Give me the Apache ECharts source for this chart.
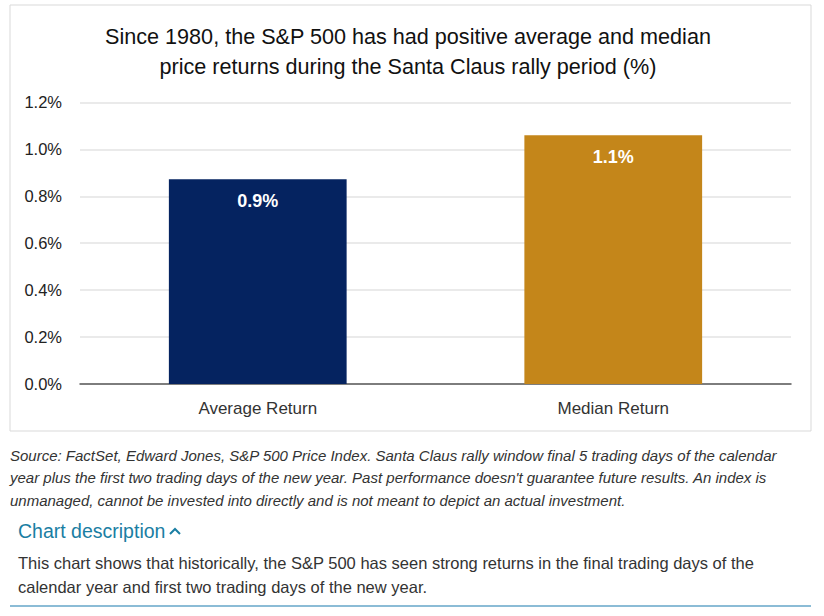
<!DOCTYPE html>
<html>
<head>
<meta charset="utf-8">
<script src="https://cdn.jsdelivr.net/npm/echarts@6/dist/echarts.min.js"></script>
<style>
html,body{margin:0;padding:0;background:#fff;}
#chart{width:824px;height:616px;}
</style>
</head>
<body>
<div id="chart"></div>
<script>
const categories = ['Average Return', 'Median Return'];
const values = [0.873, 1.06];
const barColors = ['#052360', '#c4861a'];
const yTicks = [0, 0.2, 0.4, 0.6, 0.8, 1.0, 1.2];
const titleLines = ['Since 1980, the S&P 500 has had positive average and median', 'price returns during the Santa Claus rally period (%)'];
const sourceLines = [
  "Source: FactSet, Edward Jones, S&P 500 Price Index. Santa Claus rally window final 5 trading days of the calendar",
  "year plus the first two trading days of the new year. Past performance doesn't guarantee future results. An index is",
  "unmanaged, cannot be invested into directly and is not meant to depict an actual investment."
];
const descTitle = 'Chart description';
const descLines = [
  'This chart shows that historically, the S&P 500 has seen strong returns in the final trading days of the',
  'calendar year and first two trading days of the new year.'
];

const FONT = '"Liberation Sans", Arial, sans-serif';
const chart = echarts.init(document.getElementById('chart'), null, {renderer: 'svg'});

const graphics = [
  {type: 'rect', shape: {x: 10, y: 5, width: 801, height: 426}, style: {fill: 'none', stroke: '#d9d9d9', lineWidth: 1}, z: -1},
  {type: 'line', shape: {x1: 10, y1: 606, x2: 811, y2: 606}, style: {stroke: '#8bbcd6', lineWidth: 2}}
];
titleLines.forEach((t, i) => graphics.push({
  type: 'text', x: 408, y: 36 + i * 30,
  style: {text: t, font: '21.6px ' + FONT, fill: '#111', textAlign: 'center', textVerticalAlign: 'middle'}
}));
sourceLines.forEach((t, i) => graphics.push({
  type: 'text', x: 10, y: 455 + i * 22.5,
  style: {text: t, font: 'italic 15px ' + FONT, fill: '#333', textAlign: 'left', textVerticalAlign: 'middle'}
}));
graphics.push({
  type: 'text', x: 18, y: 531,
  style: {text: descTitle, font: '19.5px ' + FONT, fill: '#1a7ea3', textAlign: 'left', textVerticalAlign: 'middle'}
});
graphics.push({
  type: 'polyline', shape: {points: [[170, 534], [175, 529], [180, 534]]},
  style: {stroke: '#1a7ea3', lineWidth: 2, fill: 'none'}
});
descLines.forEach((t, i) => graphics.push({
  type: 'text', x: 18, y: 563 + i * 24,
  style: {text: t, font: '16.5px ' + FONT, fill: '#333', textAlign: 'left', textVerticalAlign: 'middle'}
}));

chart.setOption({
  animation: false,
  textStyle: {fontFamily: FONT},
  grid: {left: 80, right: 33, top: 102.4, bottom: 232, containLabel: false},
  xAxis: {
    type: 'category', data: categories,
    axisLine: {lineStyle: {color: '#595959', width: 1.5}},
    axisTick: {show: false},
    axisLabel: {color: '#333', fontSize: 17, margin: 16}
  },
  yAxis: {
    type: 'value', min: yTicks[0], max: yTicks[yTicks.length - 1], interval: 0.2,
    axisLine: {show: false}, axisTick: {show: false},
    splitLine: {lineStyle: {color: '#e3e3e3', width: 1.5}},
    axisLabel: {color: '#222', fontSize: 16.5, margin: 18, formatter: v => v.toFixed(1) + '%'}
  },
  series: [{
    type: 'bar', barWidth: '50%',
    data: values.map((v, i) => ({value: v, itemStyle: {color: barColors[i]}})),
    label: {show: true, position: 'insideTop', distance: 13, color: '#fff', fontSize: 18, fontWeight: 'bold',
      formatter: p => p.value.toFixed(1) + '%'}
  }],
  graphic: graphics
});
</script>
</body>
</html>
